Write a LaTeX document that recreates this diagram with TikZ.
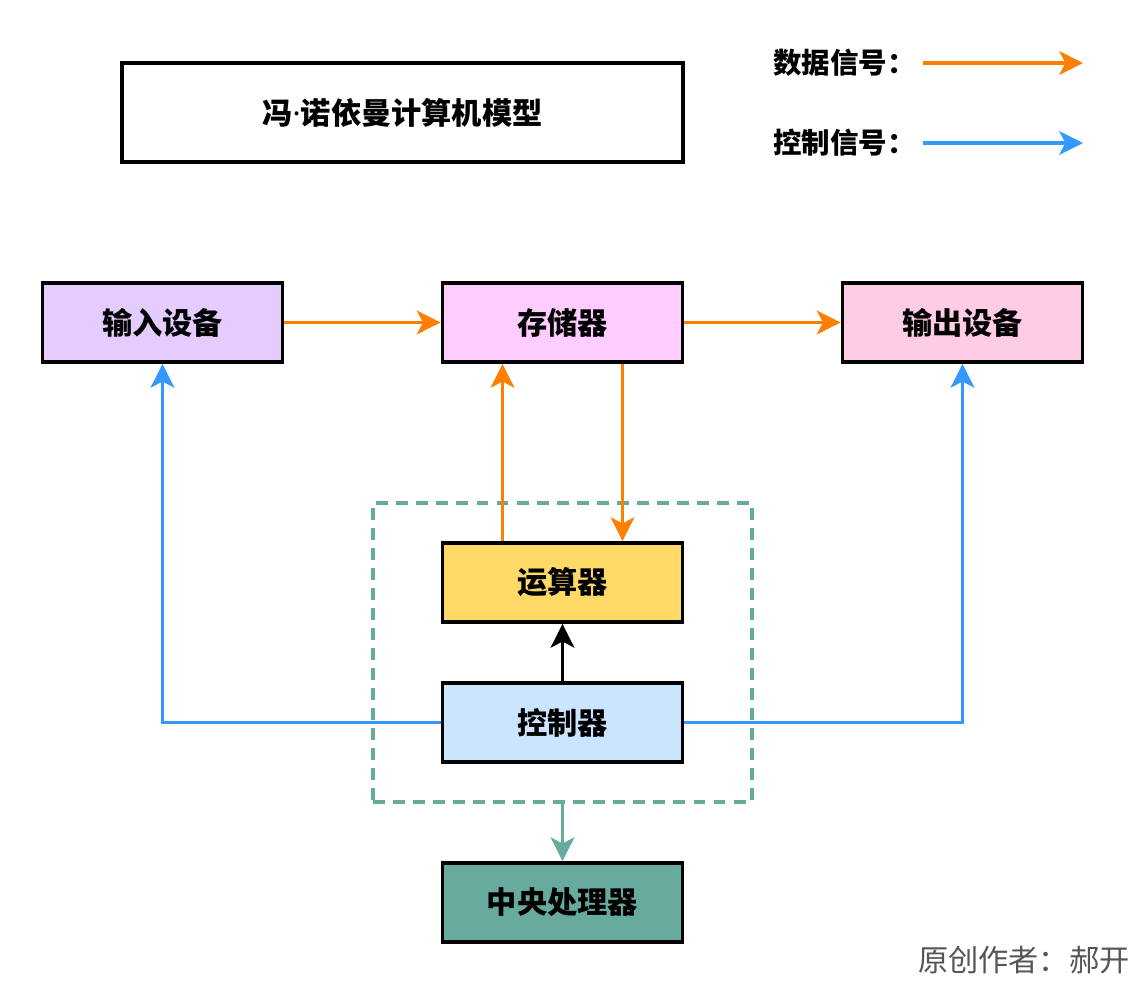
\documentclass[tikz,border=0pt]{standalone}
\usepackage{fontspec}
\setmainfont{Noto Sans CJK SC}
\newfontfamily\latinf{Noto Sans}
\usetikzlibrary{arrows.meta,calc}
\definecolor{cdata}{HTML}{FF8000}
\definecolor{cctrl}{HTML}{3399FF}
\definecolor{cteal}{HTML}{67AB9F}
\definecolor{cin}{HTML}{E5CCFF}
\definecolor{cram}{HTML}{FFCCFF}
\definecolor{cout}{HTML}{FFCCE6}
\definecolor{calu}{HTML}{FFD966}
\definecolor{ccu}{HTML}{CCE5FF}
\definecolor{cauthor}{HTML}{555555}
\tikzset{
  box/.style={draw=black, line width=2.2pt, minimum width=4.8cm, minimum height=1.58cm, inner sep=0pt, font=\fontsize{17.2pt}{20pt}\selectfont\bfseries},
  tip/.style={-{Stealth[length=13.5pt,width=13.5pt,inset=3.5pt]}},
  data/.style={tip, draw=cdata, line width=1.9pt},
  ctrl/.style={tip, draw=cctrl, line width=1.9pt},
  blk/.style={tip, draw=black, line width=1.9pt},
  tealarrow/.style={tip, draw=cteal, line width=1.9pt},
  frame/.style={draw=cteal, line width=1.9pt, dash pattern=on 6.8pt off 4.6pt, minimum width=7.58cm, minimum height=5.98cm, inner sep=0pt},
  legend/.style={font=\fontsize{16.2pt}{19pt}\selectfont\bfseries, anchor=west, inner sep=0pt},
}
\begin{document}
\begin{tikzpicture}[x=0.02cm, y=-0.02cm]
\useasboundingbox (0,0) rectangle (1140,984);
% title
\node[box, minimum width=11.22cm, minimum height=1.98cm] (title) at (402.5,112.5) {冯{\latinf\bfseries ·}诺依曼计算机模型};
% legend
\node[legend] (ldata) at (773,63) {数据信号：};
\node[legend] (lctrl) at (773,143) {控制信号：};
\coordinate (lds) at (923,63);
\coordinate (lde) at (1083,63);
\coordinate (lcs) at (923,143);
\coordinate (lce) at (1083,143);
\draw[data] (lds) -- (lde);
\draw[ctrl] (lcs) -- (lce);
% frame
\node[frame] (cpuframe) at (562.5,652.5) {};
% boxes
\node[box, fill=cin] (in) at (162.5,322.5) {输入设备};
\node[box, fill=cram] (ram) at (562.5,322.5) {存储器};
\node[box, fill=cout] (out) at (962.5,322.5) {输出设备};
\node[box, fill=calu] (alu) at (562.5,582.5) {运算器};
\node[box, fill=ccu] (cu) at (562.5,722.5) {控制器};
\node[box, fill=cteal] (cpu) at (562.5,902.5) {中央处理器};
% connectors
\draw[data] (in) -- (ram);
\draw[data] (ram) -- (out);
\draw[data] ($(alu.north)+(-60,0)$) -- ($(ram.south)+(-60,0)$);
\draw[data] ($(ram.south)+(60,0)$) -- ($(alu.north)+(60,0)$);
\draw[blk] (cu) -- (alu);
\draw[ctrl] (cu.west) -| (in.south);
\draw[ctrl] (cu.east) -| (out.south);
\draw[tealarrow] (cpuframe.south) -- (cpu.north);
% author
\node[anchor=east, inner sep=0pt, text=cauthor, font=\fontsize{17.2pt}{20pt}\selectfont] (author) at (1130,960) {原创作者：郝开};
\end{tikzpicture}
\end{document}
